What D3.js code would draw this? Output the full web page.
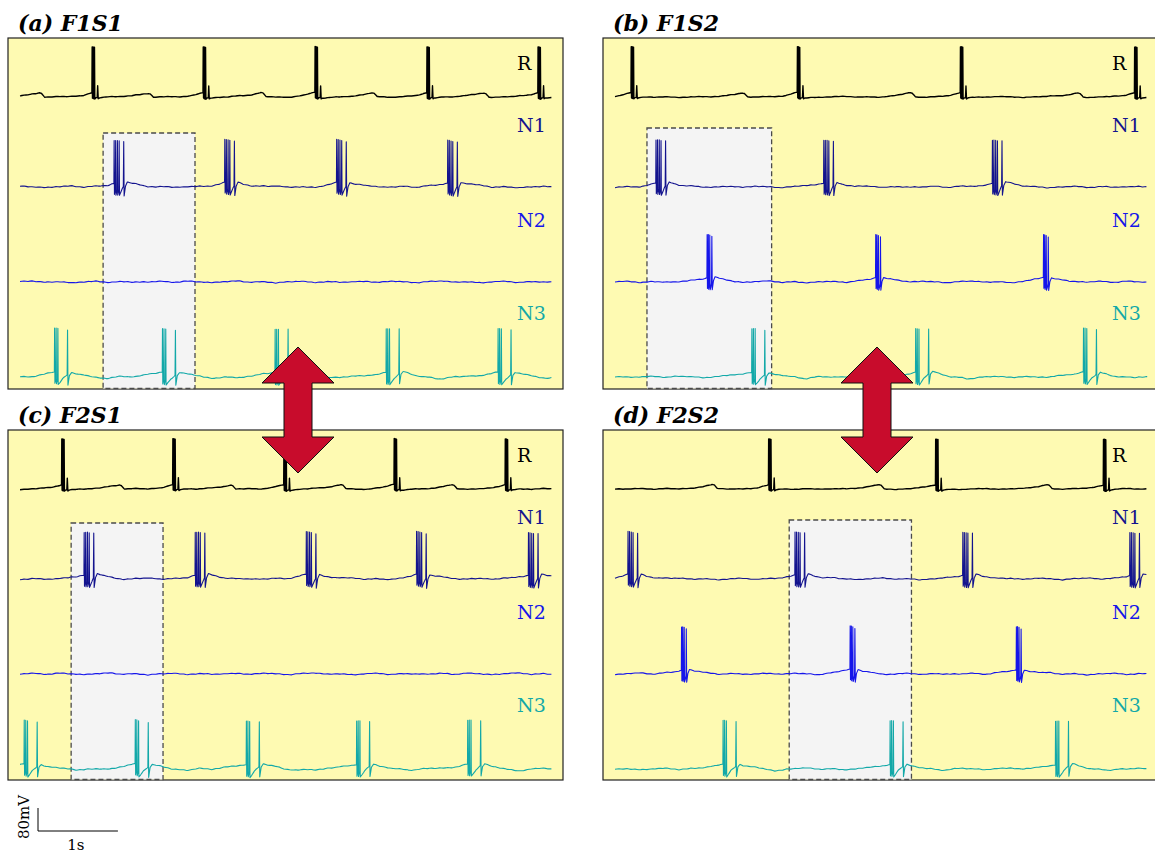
<!DOCTYPE html>
<html>
<head>
<meta charset="utf-8">
<script src="https://cdn.jsdelivr.net/npm/d3@7"></script>
<style>
  html, body { margin: 0; padding: 0; background: #ffffff; }
  svg { display: block; }
</style>
</head>
<body>
<svg id="fig" width="1155" height="855"></svg>
<script>
// ---------------- data ----------------
const panelTitles = ["(a) F1S1", "(b) F1S2", "(c) F2S1", "(d) F2S2"];
const cellNames = ["R", "N1", "N2", "N3"];
const recordDuration = 6.67;          // seconds shown in each panel

// burst onset times (s), one list per panel
const burstsR  = [[0.90, 2.29, 3.69, 5.09, 6.48], [0.20, 2.28, 4.32, 6.50], [0.52, 1.91, 3.30, 4.68, 6.07], [1.92, 4.01, 6.11]];
const burstsN1 = [[1.175, 2.56, 3.96, 5.35], [0.51, 2.61, 4.72], [0.80, 2.19, 3.58, 4.96, 6.36], [0.16, 2.25, 4.35, 6.44]];
const burstsN2 = [[], [1.15, 3.26, 5.36], [], [0.83, 2.94, 5.02]];
const burstsN3 = [[0.43, 1.78, 3.19, 4.58, 5.98], [1.71, 3.76, 5.86], [0.05, 1.44, 2.83, 4.21, 5.60], [1.35, 3.44, 5.51]];
// times (s) of the downward step in the R membrane potential
const rStepTimes = [[0.29, 1.65, 3.06, 4.45, 5.85], [1.64, 3.74, 5.84], [1.29, 2.68, 4.06, 5.45], [1.26, 3.35, 5.45]];
// highlighted time windows (s)
const highlightWindows = [[1.04, 2.19], [0.40, 1.96], [0.64, 1.79], [2.18, 3.71]];

// spike-burst waveforms: [ms from onset, mV from rest]
const waveR = [[-320,0],[-140,5],[-50,11],[-12,14],[0,15],[3,174],[7,-4],[12,174],[16,-6],[22,173],[26,-7],[32,172],[36,-8],[50,-4],[66,-3],[72,38],[79,-7],[95,-4],[200,-1],[320,0]];
const waveRStep = [[-460,0],[-280,4],[-160,8],[-80,12],[-45,14],[-20,12],[20,0]];
const waveN1 = [[-380,0],[-190,3],[-80,8],[-20,13],[0,14],[3,163],[7,-24],[18,-8],[22,163],[26,-27],[40,-10],[44,162],[48,-28],[62,-12],[66,160],[70,-30],[85,-20],[105,-6],[118,2],[123,158],[128,-31],[145,2],[168,16],[230,11],[380,4],[560,0]];
const waveN2 = [[-380,0],[-190,4],[-80,9],[-20,14],[0,15],[3,165],[7,-22],[14,-6],[18,165],[22,-25],[32,-8],[36,163],[40,-27],[50,-18],[58,-4],[62,158],[67,-28],[82,2],[102,15],[160,10],[320,3],[520,0]];
const waveN3 = [[-420,0],[-260,4],[-120,10],[-30,15],[0,16],[3,168],[7,-24],[18,-8],[22,168],[26,-26],[40,-10],[44,167],[48,-28],[70,-20],[105,-6],[150,5],[160,8],[165,164],[170,-27],[188,6],[215,16],[300,10],[450,1],[650,-5],[800,0]];
// small membrane fluctuations (mV)
const noiseSlow = [0, 2.5, -1.5, 3, 0.5, -2.5, 1.5, 3.5, -1, 1, -3, 0.5, 2.5, -2, 1.5, -0.5];
const noiseFast = [0, 1.2, -0.8, 0.6, -1.4, 0.9, -0.3, 1.5, -1, 0.4, -0.6, 1.1];

const scaleBarMV = 80, scaleBarS = 1;

// ---------------- layout ----------------
const layout = [
  { x: 8,   y: 38,  w: 555, h: 351, shadeTop: 95 },
  { x: 603, y: 38,  w: 600, h: 351, shadeTop: 90 },
  { x: 8,   y: 430, w: 555, h: 350, shadeTop: 93 },
  { x: 603, y: 430, w: 600, h: 350, shadeTop: 90 }
];
const rowBaseline = [59, 149, 244, 339];
const labelBaseline = [32, 94, 189, 282];
const traceColors = ["#000000", "#13138e", "#1515ea", "#12a8a8"];
const traceWidths = [1.4, 1.1, 1.1, 1.1];
const panelFill = "#fefab2";
const shadeFill = "#f4f4f4";
const arrowFill = "#c80c2c";

const svg = d3.select("#fig");
const yMV = d3.scaleLinear().domain([0, scaleBarMV]).range([0, -23]);

function waveAt(wave, dtMs) {
  if (dtMs <= wave[0][0] || dtMs >= wave[wave.length - 1][0]) return 0;
  const i = d3.bisector(d => d[0]).right(wave, dtMs);
  const a = wave[i - 1], b = wave[i];
  return a[1] + (b[1] - a[1]) * (dtMs - a[0]) / (b[0] - a[0]);
}

function cyc(arr, pos) {
  const n = arr.length;
  const i0 = Math.floor(pos), f = pos - i0;
  const a = arr[((i0 % n) + n) % n], b = arr[(((i0 + 1) % n) + n) % n];
  return a + (b - a) * f;
}

function buildTrace(sources, phase, noiseGain) {
  const knots = new Set();
  for (let k = 0; k * 0.025 <= recordDuration + 1e-9; k++) knots.add(+(k * 0.025).toFixed(4));
  sources.forEach(({ times, wave }) => times.forEach(te => wave.forEach(([ms]) => knots.add(te + ms / 1000))));
  const ts = [...knots].filter(t => t >= 0 && t <= recordDuration).sort((a, b) => a - b);
  return ts.map(t => {
    let v = 0;
    sources.forEach(({ times, wave }) => times.forEach(te => { v += waveAt(wave, (t - te) * 1000); }));
    v += noiseGain * (cyc(noiseSlow, t / 0.16 + phase) + cyc(noiseFast, t / 0.05 + phase * 2));
    return [t, v];
  });
}

layout.forEach((L, p) => {
  const g = svg.append("g").attr("class", "panel");
  g.append("rect")
    .attr("x", L.x).attr("y", L.y).attr("width", L.w).attr("height", L.h)
    .attr("fill", panelFill).attr("stroke", "#222").attr("stroke-width", 1.2);

  const x = d3.scaleLinear().domain([0, recordDuration]).range([L.x + 12, L.x + 545]);

  const [w0, w1] = highlightWindows[p];
  g.append("rect")
    .attr("x", x(w0)).attr("y", L.y + L.shadeTop)
    .attr("width", x(w1) - x(w0)).attr("height", L.h - L.shadeTop - 0.5)
    .attr("fill", shadeFill).attr("stroke", "#4a4a4a").attr("stroke-width", 1.3)
    .attr("stroke-dasharray", "5,3");

  const traceSources = [
    [{ times: burstsR[p], wave: waveR }, { times: rStepTimes[p], wave: waveRStep }],
    [{ times: burstsN1[p], wave: waveN1 }],
    [{ times: burstsN2[p], wave: waveN2 }],
    [{ times: burstsN3[p], wave: waveN3 }]
  ];

  traceSources.forEach((src, r) => {
    const base = L.y + rowBaseline[r];
    const pts = buildTrace(src, p * 5 + r * 3, r === 0 ? 0.6 : 1.0);
    const line = d3.line().x(d => x(d[0])).y(d => base + yMV(d[1]));
    g.append("path")
      .attr("d", line(pts))
      .attr("fill", "none")
      .attr("stroke", traceColors[r])
      .attr("stroke-width", traceWidths[r])
      .attr("stroke-linejoin", "round");

    g.append("text")
      .attr("x", L.x + 509).attr("y", L.y + labelBaseline[r])
      .attr("fill", traceColors[r])
      .attr("font-family", "DejaVu Serif, serif")
      .attr("font-size", 19)
      .text(cellNames[r]);
  });

  svg.append("text")
    .attr("x", L.x + 10).attr("y", L.y - 7)
    .attr("font-family", "DejaVu Serif, serif")
    .attr("font-size", 22).attr("font-weight", "bold").attr("font-style", "italic")
    .attr("fill", "#000")
    .text(panelTitles[p]);
});

// double-headed arrows linking the F1 and F2 panels
function doubleArrow(cx) {
  const top = 347, bot = 473, headBase1 = 383, headBase2 = 437, hw = 36, sw = 14;
  const pts = [[cx, top], [cx + hw, headBase1], [cx + sw, headBase1], [cx + sw, headBase2], [cx + hw, headBase2],
               [cx, bot], [cx - hw, headBase2], [cx - sw, headBase2], [cx - sw, headBase1], [cx - hw, headBase1]];
  svg.append("polygon")
    .attr("points", pts.map(d => d.join(",")).join(" "))
    .attr("fill", arrowFill).attr("stroke", "#111").attr("stroke-width", 1);
}
doubleArrow(298);
doubleArrow(877);

// scale bar
const sx = d3.scaleLinear().domain([0, recordDuration]).range([20, 553]);
const barX = 38, barY = 831;
const sb = svg.append("g").attr("class", "scalebar");
sb.append("path")
  .attr("d", `M${barX},${barY + yMV(scaleBarMV)}V${barY}H${barX + sx(scaleBarS) - sx(0)}`)
  .attr("fill", "none").attr("stroke", "#000").attr("stroke-width", 1);
sb.append("text")
  .attr("transform", `translate(29,${barY - 14}) rotate(-90)`)
  .attr("text-anchor", "middle")
  .attr("font-family", "DejaVu Serif, serif").attr("font-size", 15)
  .text(scaleBarMV + "mV");
sb.append("text")
  .attr("x", barX + (sx(scaleBarS) - sx(0)) / 2 - 2).attr("y", 850)
  .attr("text-anchor", "middle")
  .attr("font-family", "DejaVu Serif, serif").attr("font-size", 15)
  .text(scaleBarS + "s");
</script>
</body>
</html>
